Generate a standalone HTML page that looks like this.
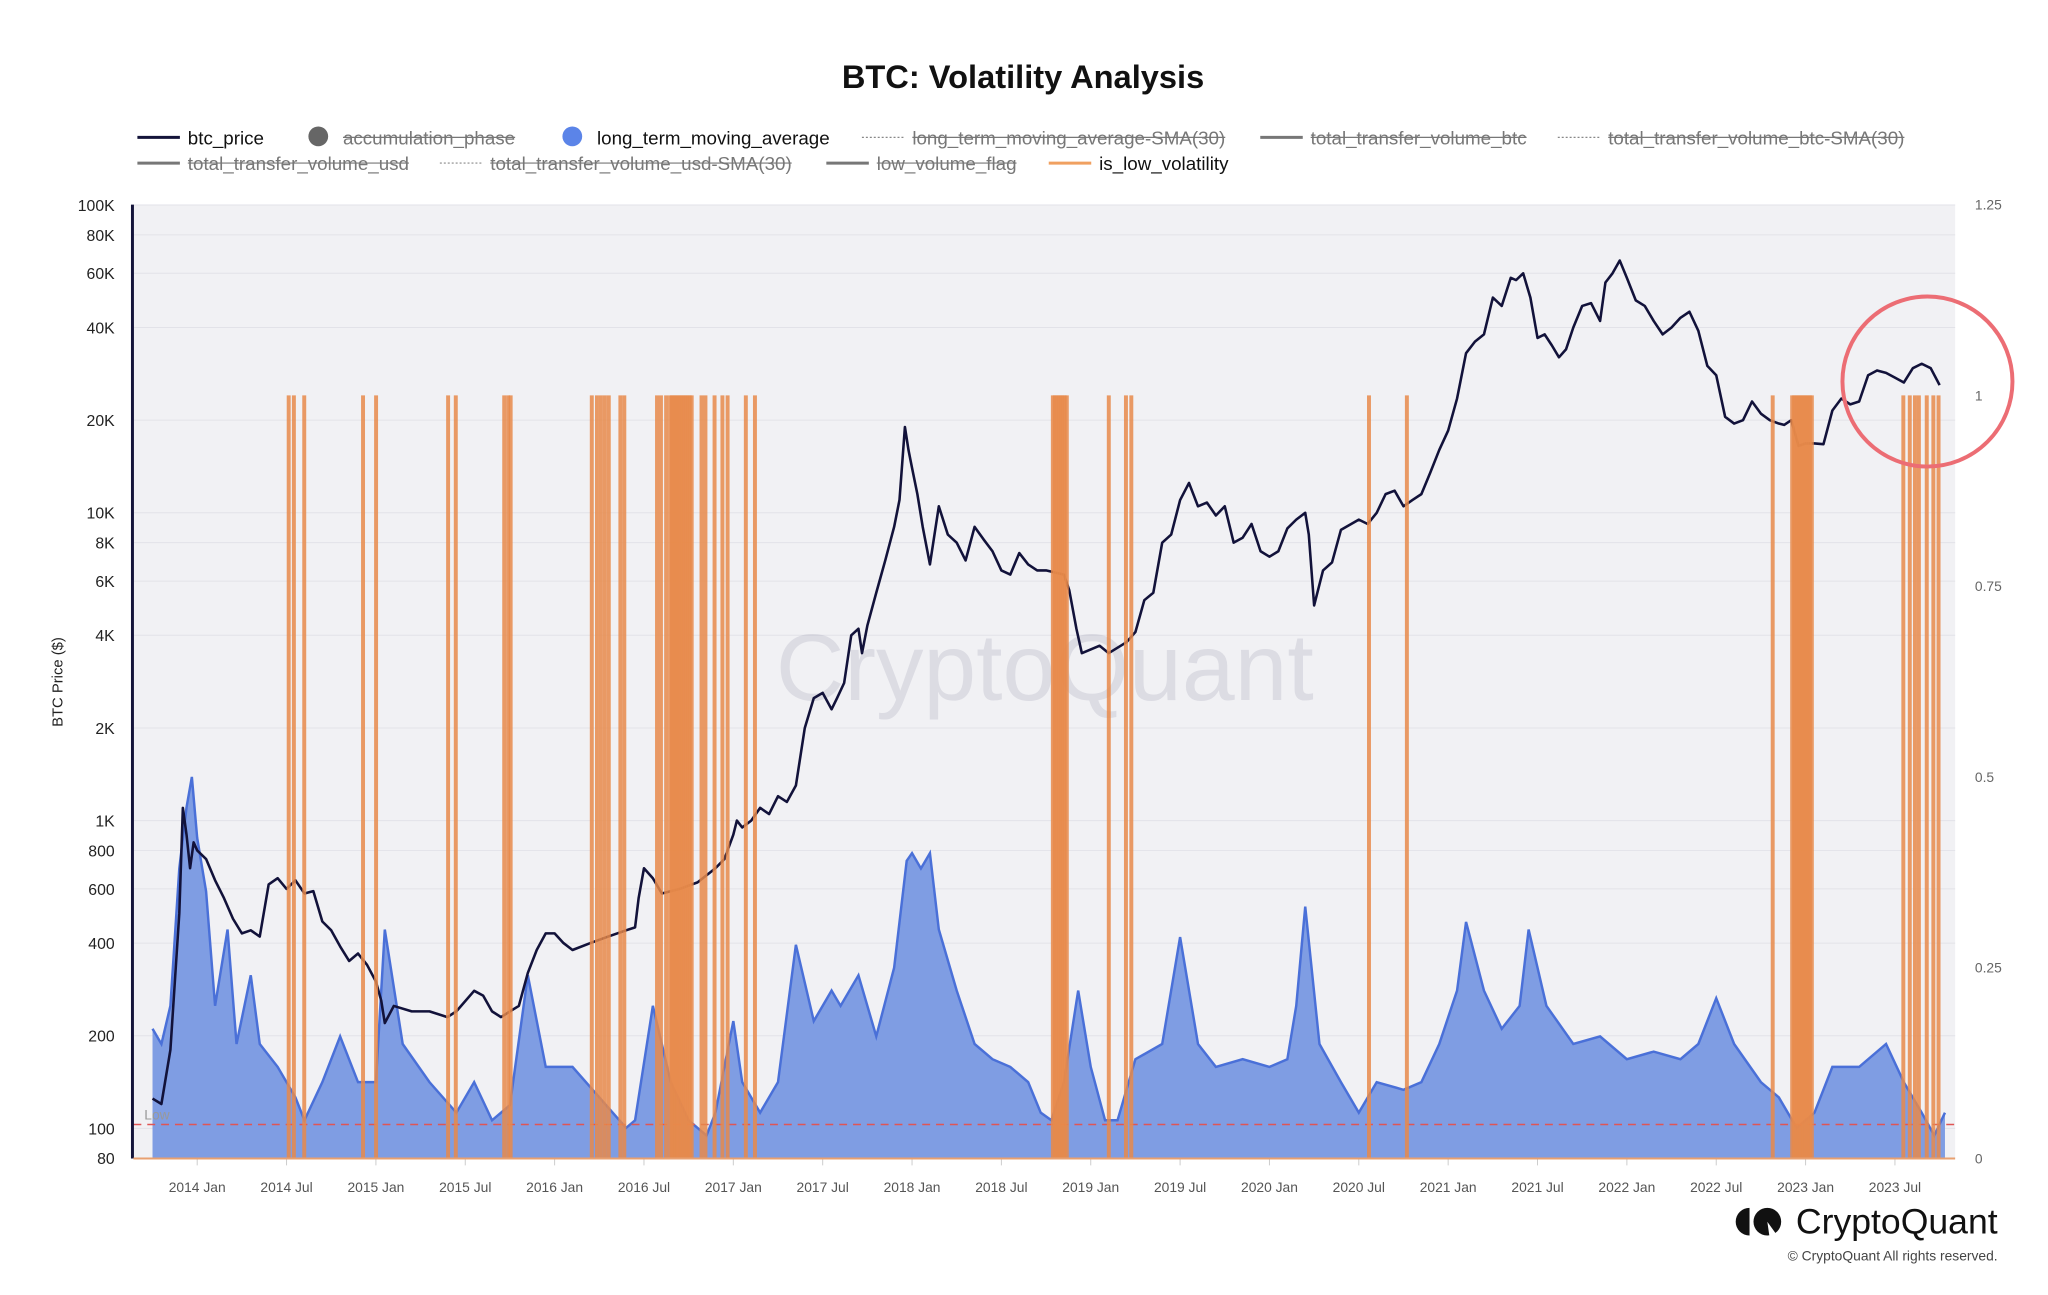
<!DOCTYPE html>
<html><head><meta charset="utf-8">
<style>
html,body{margin:0;padding:0;background:#fff;}
body{width:2048px;height:1290px;overflow:hidden;font-family:"Liberation Sans",sans-serif;}
svg text{font-family:"Liberation Sans",sans-serif;}
</style></head>
<body>
<svg id="chart" width="2048" height="1290" viewBox="0 0 2048 1290" xmlns="http://www.w3.org/2000/svg">
<g id="root" transform="scale(0.98844)">
<text x="1035" y="89" text-anchor="middle" font-size="33" font-weight="bold" fill="#111">BTC: Volatility Analysis</text>
<g id="legend"></g>
<rect x="135" y="207" width="1843" height="965" fill="#f1f1f4"/>
<g id="grid"></g>
<text x="1057" y="708" text-anchor="middle" font-size="96" fill="#9090a8" fill-opacity="0.22">CryptoQuant</text>
<g id="marks"></g>
<g id="axes"></g>
<circle cx="1950" cy="386" r="86" fill="none" stroke="#ec6d74" stroke-width="4"/>
<g>
<path d="M1770 1222 a14 14 0 0 0 0 28 z" fill="#111"/>
<circle cx="1788" cy="1236" r="14" fill="#111"/>
<path d="M1788 1236 l10 14 h-8 z" fill="#fff"/>
<text x="2021" y="1248" text-anchor="end" font-size="36" fill="#111">CryptoQuant</text>
</g>
<text x="2021" y="1275" text-anchor="end" font-size="14" fill="#444">© CryptoQuant All rights reserved.</text>
</g>
</svg>
<script>
// ---- data ----
const priceDates=[2013.75,2013.8,2013.85,2013.9,2013.92,2013.94,2013.96,2013.98,2014.0,2014.05,2014.1,2014.15,2014.2,2014.25,2014.3,2014.35,2014.4,2014.45,2014.5,2014.55,2014.6,2014.65,2014.7,2014.75,2014.8,2014.85,2014.9,2014.95,2015.0,2015.03,2015.05,2015.1,2015.2,2015.3,2015.4,2015.45,2015.55,2015.6,2015.65,2015.7,2015.75,2015.8,2015.85,2015.9,2015.95,2016.0,2016.05,2016.1,2016.2,2016.3,2016.4,2016.45,2016.47,2016.5,2016.55,2016.6,2016.7,2016.8,2016.9,2016.95,2017.0,2017.02,2017.05,2017.1,2017.15,2017.2,2017.25,2017.3,2017.35,2017.4,2017.45,2017.5,2017.55,2017.58,2017.62,2017.66,2017.7,2017.72,2017.75,2017.8,2017.85,2017.9,2017.93,2017.96,2017.98,2018.0,2018.03,2018.06,2018.1,2018.15,2018.2,2018.25,2018.3,2018.35,2018.4,2018.45,2018.5,2018.55,2018.6,2018.65,2018.7,2018.75,2018.8,2018.85,2018.88,2018.92,2018.95,2019.0,2019.05,2019.1,2019.2,2019.25,2019.3,2019.35,2019.4,2019.45,2019.5,2019.55,2019.6,2019.65,2019.7,2019.75,2019.8,2019.85,2019.9,2019.95,2020.0,2020.05,2020.1,2020.15,2020.2,2020.22,2020.25,2020.3,2020.35,2020.4,2020.5,2020.55,2020.6,2020.65,2020.7,2020.75,2020.8,2020.85,2020.9,2020.95,2021.0,2021.05,2021.1,2021.15,2021.2,2021.25,2021.3,2021.35,2021.38,2021.42,2021.46,2021.5,2021.54,2021.58,2021.62,2021.66,2021.7,2021.75,2021.8,2021.85,2021.88,2021.92,2021.96,2022.0,2022.05,2022.1,2022.15,2022.2,2022.25,2022.3,2022.35,2022.4,2022.45,2022.5,2022.55,2022.6,2022.65,2022.7,2022.75,2022.8,2022.85,2022.88,2022.92,2022.96,2023.0,2023.05,2023.1,2023.15,2023.2,2023.25,2023.3,2023.35,2023.4,2023.45,2023.5,2023.55,2023.6,2023.65,2023.7,2023.75];
const priceValues=[125,120,180,500,1100,900,700,850,800,750,640,560,480,430,440,420,620,650,600,640,580,590,470,440,390,350,370,340,300,260,220,250,240,240,230,240,280,270,240,230,240,250,320,380,430,430,400,380,400,420,440,450,560,700,650,580,600,630,700,750,900,1000,950,1000,1100,1050,1200,1150,1300,2000,2500,2600,2300,2500,2800,4000,4200,3500,4300,5500,7000,9000,11000,19000,16000,14000,11500,9000,6800,10500,8500,8000,7000,9000,8200,7500,6500,6300,7400,6800,6500,6500,6400,6300,5600,4200,3500,3600,3700,3500,3800,4100,5200,5500,8000,8500,11000,12500,10500,10800,9800,10500,8000,8300,9200,7500,7200,7500,8900,9500,10000,8500,5000,6500,6900,8800,9500,9200,10000,11500,11800,10500,11000,11500,13500,16000,18500,23500,33000,36000,38000,50000,47000,58000,57000,60000,50000,37000,38000,35000,32000,34000,40000,47000,48000,42000,56000,60000,66000,58000,49000,47000,42000,38000,40000,43000,45000,39000,30000,28000,20500,19500,20000,23000,21000,20000,19500,19300,20000,16500,16800,16800,16700,21500,23500,22500,23000,28000,29000,28500,27500,26500,29500,30500,29500,26000,26500,27000];
const ltmaDates=[2013.75,2013.8,2013.85,2013.9,2013.94,2013.97,2014.0,2014.05,2014.1,2014.17,2014.22,2014.3,2014.35,2014.45,2014.55,2014.6,2014.7,2014.8,2014.9,2015.0,2015.05,2015.15,2015.3,2015.45,2015.55,2015.65,2015.75,2015.85,2015.95,2016.1,2016.25,2016.4,2016.45,2016.55,2016.65,2016.75,2016.85,2016.9,2017.0,2017.05,2017.15,2017.25,2017.35,2017.45,2017.55,2017.6,2017.7,2017.8,2017.9,2017.97,2018.0,2018.05,2018.1,2018.15,2018.25,2018.35,2018.45,2018.55,2018.65,2018.72,2018.78,2018.85,2018.93,2019.0,2019.08,2019.15,2019.25,2019.4,2019.5,2019.6,2019.7,2019.85,2020.0,2020.1,2020.15,2020.2,2020.28,2020.4,2020.5,2020.6,2020.75,2020.85,2020.95,2021.05,2021.1,2021.2,2021.3,2021.4,2021.45,2021.55,2021.7,2021.85,2022.0,2022.15,2022.3,2022.4,2022.5,2022.6,2022.75,2022.85,2022.95,2023.05,2023.15,2023.3,2023.45,2023.55,2023.65,2023.72,2023.78];
const ltmaValues=[0.17,0.15,0.2,0.38,0.46,0.5,0.42,0.35,0.2,0.3,0.15,0.24,0.15,0.12,0.08,0.05,0.1,0.16,0.1,0.1,0.3,0.15,0.1,0.06,0.1,0.05,0.07,0.24,0.12,0.12,0.08,0.04,0.05,0.2,0.1,0.05,0.03,0.06,0.18,0.1,0.06,0.1,0.28,0.18,0.22,0.2,0.24,0.16,0.25,0.39,0.4,0.38,0.4,0.3,0.22,0.15,0.13,0.12,0.1,0.06,0.05,0.1,0.22,0.12,0.05,0.05,0.13,0.15,0.29,0.15,0.12,0.13,0.12,0.13,0.2,0.33,0.15,0.1,0.06,0.1,0.09,0.1,0.15,0.22,0.31,0.22,0.17,0.2,0.3,0.2,0.15,0.16,0.13,0.14,0.13,0.15,0.21,0.15,0.1,0.08,0.04,0.06,0.12,0.12,0.15,0.1,0.06,0.03,0.06];
const lowVolDates=[2014.512,2014.541,2014.599,2014.928,2015.001,2015.404,2015.447,2015.718,2015.740,2015.754,2016.208,2016.237,2016.259,2016.281,2016.303,2016.368,2016.390,2016.573,2016.595,2016.624,2016.646,2016.657,2016.668,2016.679,2016.690,2016.701,2016.712,2016.723,2016.734,2016.745,2016.756,2016.767,2016.822,2016.844,2016.895,2016.939,2016.968,2017.070,2017.121,2018.788,2018.799,2018.810,2018.821,2018.832,2018.843,2018.854,2018.866,2019.101,2019.197,2019.227,2020.557,2020.769,2022.816,2022.925,2022.936,2022.947,2022.958,2022.969,2022.980,2022.991,2023.002,2023.013,2023.024,2023.035,2023.547,2023.583,2023.612,2023.634,2023.678,2023.715,2023.744];
const lowVolValue=1;
const lowThreshold=0.0445;
const leftTicks=[100000,80000,60000,40000,20000,10000,8000,6000,4000,2000,1000,800,600,400,200,100,80];
const leftTickLabels=["100K","80K","60K","40K","20K","10K","8K","6K","4K","2K","1K","800","600","400","200","100","80"];
const rightTicks=[0,0.25,0.5,0.75,1,1.25];
const rightTickLabels=["0","0.25","0.5","0.75","1","1.25"];
const xTicks=[2014,2014.5,2015,2015.5,2016,2016.5,2017,2017.5,2018,2018.5,2019,2019.5,2020,2020.5,2021,2021.5,2022,2022.5,2023,2023.5];
const xTickLabels=["2014 Jan","2014 Jul","2015 Jan","2015 Jul","2016 Jan","2016 Jul","2017 Jan","2017 Jul","2018 Jan","2018 Jul","2019 Jan","2019 Jul","2020 Jan","2020 Jul","2021 Jan","2021 Jul","2022 Jan","2022 Jul","2023 Jan","2023 Jul"];

// ---- scales ----
const PL=135,PR=1978,PT=207,PB=1172;
const xS=d=>199.5+(d-2014)*180.8;
const yL=v=>1141.6-(Math.log10(v)-2)*311.4;
const yR=v=>PB-(PB-PT)*v/1.25;
const NS="http://www.w3.org/2000/svg";
function mk(tag,attrs,parent){const e=document.createElementNS(NS,tag);for(const k in attrs)e.setAttribute(k,attrs[k]);parent.appendChild(e);return e;}
const grid=document.getElementById('grid'),marks=document.getElementById('marks'),axes=document.getElementById('axes'),legend=document.getElementById('legend');

leftTicks.forEach((t,i)=>{
  const y=yL(t);
  const g=mk('line',{x1:PL,x2:PR,y1:y,y2:y,stroke:'#e2e2e8','stroke-width':1},grid);
  
  
  const tx=mk('text',{x:116,y:y+6,'text-anchor':'end','font-size':16,fill:'#222'},axes);
  tx.textContent=leftTickLabels[i];
  
  
});
rightTicks.forEach((t,i)=>{
  const tx=mk('text',{x:1998,y:yR(t)+5,'font-size':14,fill:'#666'},axes);
  tx.textContent=rightTickLabels[i];
  
  
});
xTicks.forEach((t,i)=>{
  const x=xS(t);
  const tk=mk('line',{x1:x,x2:x,y1:PB,y2:PB+7,stroke:'#ccc'},axes);
  
  
  const tx=mk('text',{x:x,y:1206,'text-anchor':'middle','font-size':14,fill:'#555'},axes);
  tx.textContent=xTickLabels[i];
  
  
});
const ytitle=mk('text',{x:0,y:0,transform:'translate(63,690) rotate(-90)','text-anchor':'middle','font-size':15,fill:'#222'},axes);
ytitle.textContent='BTC Price ($)';


const yaxis=mk('line',{x1:PL-1,x2:PL-1,y1:PT,y2:PB,stroke:'#14143a','stroke-width':3},axes);


const xaxis=mk('line',{x1:PL,x2:PR,y1:PB,y2:PB,stroke:'#e8a070','stroke-width':2},axes);



// area
let d='M'+xS(ltmaDates[0])+' '+PB;
ltmaDates.forEach((t,i)=>{d+=' L'+xS(t).toFixed(1)+' '+yR(ltmaValues[i]).toFixed(1);});
d+=' L'+xS(ltmaDates[ltmaDates.length-1])+' '+PB+' Z';
const area=mk('path',{d:d,fill:'#7f9de3'},marks);


let ld='';
ltmaDates.forEach((t,i)=>{ld+=(i?' L':'M')+xS(t).toFixed(1)+' '+yR(ltmaValues[i]).toFixed(1);});
const aline=mk('path',{d:ld,fill:'none',stroke:'#4a70d8','stroke-width':2.5},marks);



// low threshold
const low=mk('line',{x1:PL,x2:PR,y1:yR(lowThreshold),y2:yR(lowThreshold),stroke:'#e05555','stroke-width':1.5,'stroke-dasharray':'8 6'},marks);


const lowt=mk('text',{x:146,y:yR(lowThreshold)-5,'font-size':14,fill:'#999'},marks);
lowt.textContent='Low';



// price
let pd='';
priceDates.forEach((t,i)=>{pd+=(i?' L':'M')+xS(t).toFixed(1)+' '+yL(priceValues[i]).toFixed(1);});
const pl=mk('path',{d:pd,fill:'none',stroke:'#12123a','stroke-width':2.6,'stroke-linejoin':'round'},marks);



// low volatility bars
lowVolDates.forEach(t=>{
  const r=mk('rect',{x:xS(t)-2,y:yR(lowVolValue),width:4,height:PB-yR(lowVolValue),fill:'#e8894a','fill-opacity':0.85},marks);
  
  
});

// legend
const items=[
 [139,139,'line','#14143a','btc_price',false],
 [318,139,'dot','#666','accumulation_phase',true],
 [575,139,'dot','#5b84e8','long_term_moving_average',false],
 [872,139,'dotted','#888','long_term_moving_average-SMA(30)',true],
 [1275,139,'line','#777','total_transfer_volume_btc',true],
 [1576,139,'dotted','#888','total_transfer_volume_btc-SMA(30)',true],
 [139,165,'line','#777','total_transfer_volume_usd',true],
 [445,165,'dotted','#888','total_transfer_volume_usd-SMA(30)',true],
 [836,165,'line','#777','low_volume_flag',true],
 [1061,165,'line','#f0a060','is_low_volatility',false]
];
items.forEach(it=>{
  const [x,y,type,col,label,off]=it;
  const g=mk('g',{},legend);
  
  
  let tx;
  if(type==='dot'){mk('circle',{cx:x+4,cy:y-1,r:10,fill:col},g);tx=x+29;}
  else {mk('line',{x1:x,x2:x+43,y1:y,y2:y,stroke:col,'stroke-width':type==='dotted'?1.2:3,'stroke-dasharray':type==='dotted'?'2 2':'none'},g);tx=x+51;}
  const t=mk('text',{x:tx,y:y+7,'font-size':19,fill:off?'#777':'#111'},g);
  t.textContent=label;
  if(off){const w=t.getComputedTextLength();mk('line',{x1:tx,x2:tx+w,y1:y,y2:y,stroke:'#777','stroke-width':1.2},g);}
});
</script>
</body></html>
